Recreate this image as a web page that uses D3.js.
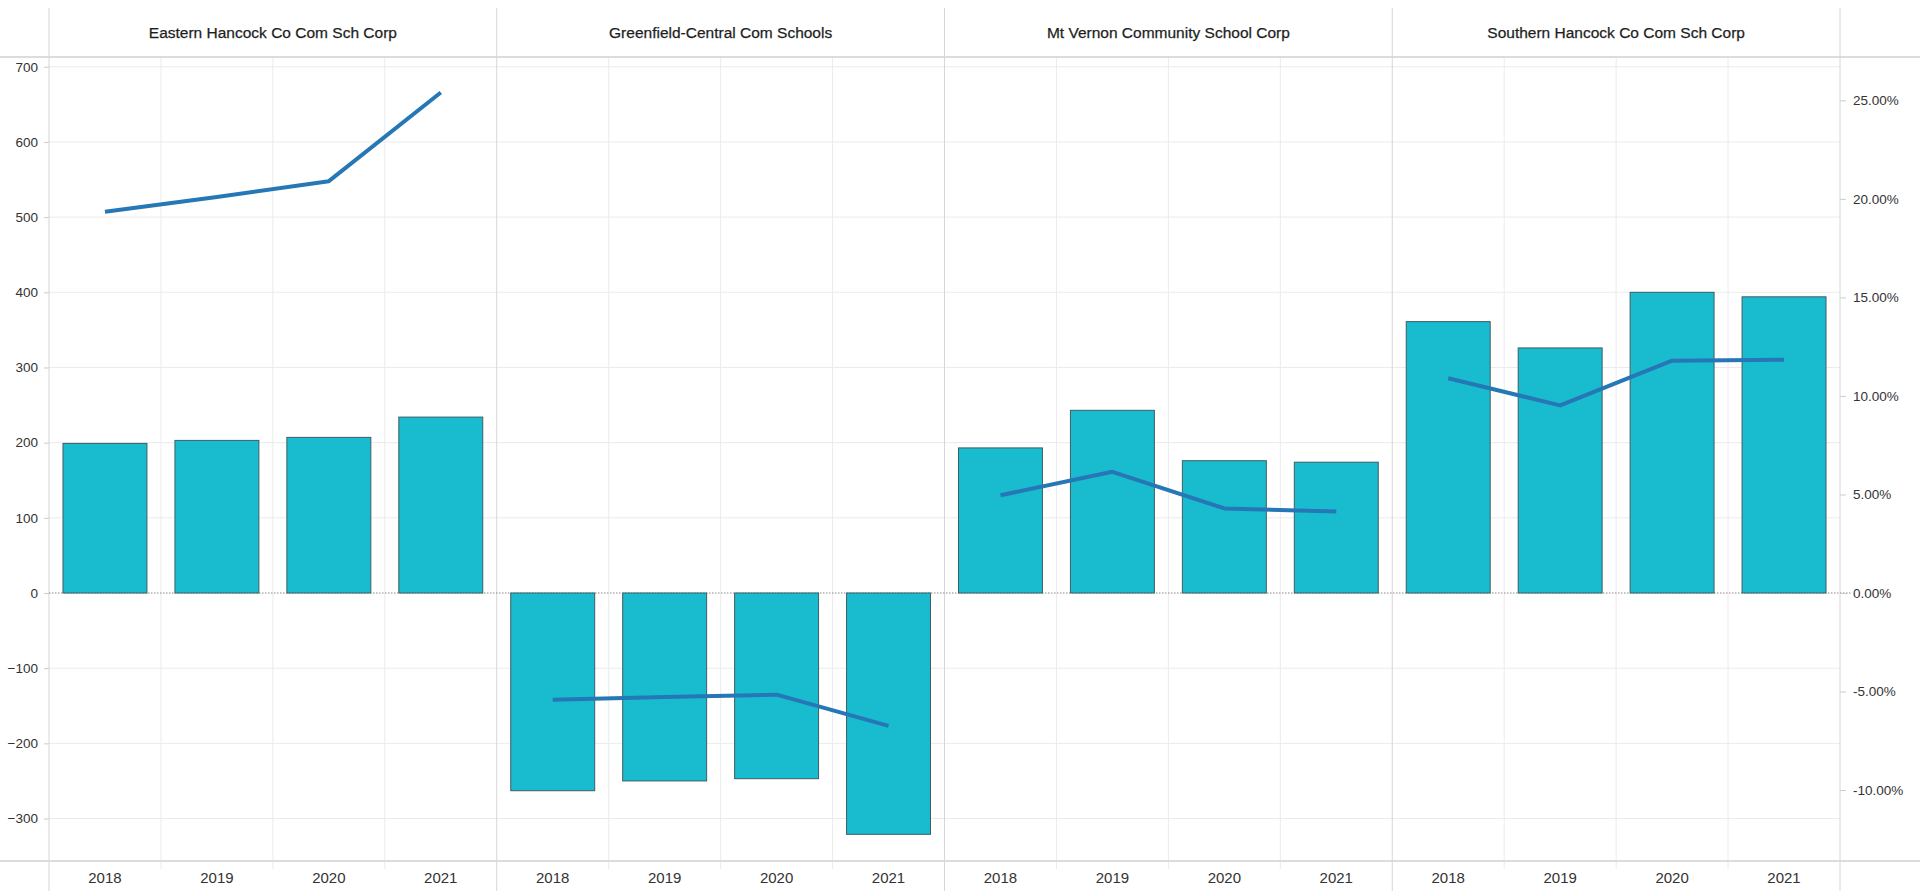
<!DOCTYPE html>
<html lang="en">
<head>
<meta charset="UTF-8">
<title>Change by district</title>
<script src="https://cdnjs.cloudflare.com/ajax/libs/d3/7.8.5/d3.min.js"></script>
<style>
    html, body { margin: 0; padding: 0; background: #fff; }
    svg { display: block; font-family: "Liberation Sans", Arial, sans-serif; }
    .tick text { fill: #333; }
    .head { fill: #1e1e1e; font-size: 15.5px; }
</style>
</head>
<body>
<script>
const districts = ["Eastern Hancock Co Com Sch Corp", "Greenfield-Central Com Schools",
                   "Mt Vernon Community School Corp", "Southern Hancock Co Com Sch Corp"];
const years = ["2018", "2019", "2020", "2021"];
// bars (left axis)
const changeValues = [
    [199, 203, 207, 234],
    [-263, -250, -247, -321],
    [193, 243, 176, 174],
    [361, 326, 400, 394]
];
// line (right axis, percent)
const pctValues = [
    [19.35, 20.1, 20.9, 25.4],
    [-5.42, -5.28, -5.16, -6.74],
    [4.96, 6.15, 4.29, 4.13],
    [10.9, 9.52, 11.79, 11.84]
];
const leftTicks = [-300, -200, -100, 0, 100, 200, 300, 400, 500, 600, 700];
const rightTicks = [-10, -5, 0, 5, 10, 15, 20, 25];

const W = 1920, H = 891;
const plotL = 49, plotR = 1840, plotT = 57, plotB = 861;

const svg = d3.select("body").append("svg").attr("width", W).attr("height", H);

const xPanel = d3.scaleBand().domain(districts).range([plotL, plotR]);
const xYear = d3.scaleBand().domain(years).range([0, xPanel.bandwidth()])
    .paddingInner(0.25).paddingOuter(0.125);
const xCell = d3.scaleBand().domain(years).range([0, xPanel.bandwidth()]);

const y = d3.scaleLinear().domain([-356.5, 713]).range([plotB, plotT]);
const y2 = d3.scaleLinear().domain([-13.6, 27.2]).range([plotB, plotT]);

// horizontal grid
svg.append("g").selectAll("line").data(leftTicks.filter(d => d !== 0)).enter().append("line")
    .attr("x1", plotL).attr("x2", plotR)
    .attr("y1", d => y(d)).attr("y2", d => y(d))
    .attr("stroke", "#ebebeb");

// vertical grid inside each panel
districts.forEach(p => {
    years.slice(1).forEach(yr => {
        const gx = xPanel(p) + xCell(yr);
        svg.append("line")
            .attr("x1", gx).attr("x2", gx).attr("y1", plotT).attr("y2", plotB + 8)
            .attr("stroke", "#ebebeb");
    });
});

// header and axis frame lines
svg.append("line").attr("x1", 0).attr("x2", W).attr("y1", plotT).attr("y2", plotT)
    .attr("stroke", "#dcdcdc").attr("stroke-width", 2);
svg.append("line").attr("x1", 0).attr("x2", W).attr("y1", plotB).attr("y2", plotB)
    .attr("stroke", "#dcdcdc").attr("stroke-width", 2);

// panel dividers
const edges = districts.map(p => xPanel(p)).concat([plotR]);
svg.append("g").selectAll("line").data(edges).enter().append("line")
    .attr("x1", d => d).attr("x2", d => d).attr("y1", 8).attr("y2", H)
    .attr("stroke", "#d6d6d6");

// zero line
svg.append("line").attr("x1", plotL).attr("x2", plotR + 12)
    .attr("y1", y(0)).attr("y2", y(0))
    .attr("stroke", "#888").attr("stroke-dasharray", "1.5,1.5");

// panel titles
svg.selectAll(".head").data(districts).enter().append("text")
    .attr("class", "head")
    .attr("x", d => xPanel(d) + xPanel.bandwidth() / 2)
    .attr("y", 34)
    .attr("text-anchor", "middle").attr("dominant-baseline", "middle")
    .attr("stroke", "#1e1e1e").attr("stroke-width", 0.25)
    .text(d => d);

// bars + lines
const line = d3.line()
    .x(d => d.x)
    .y(d => y2(d.v));

districts.forEach((p, i) => {
    const g = svg.append("g").attr("transform", `translate(${xPanel(p)},0)`);
    const rows = years.map((yr, j) => ({ yr, v: changeValues[i][j] }));
    g.selectAll("rect").data(rows).enter().append("rect")
        .attr("x", d => xYear(d.yr))
        .attr("width", xYear.bandwidth())
        .attr("y", d => y(Math.max(0, d.v)))
        .attr("height", d => Math.abs(y(d.v) - y(0)))
        .attr("fill", "#19bccf")
        .attr("stroke", "#3f5d66").attr("stroke-width", 1);

    const pts = years.map((yr, j) => ({ x: xCell(yr) + xCell.bandwidth() / 2, v: pctValues[i][j] }));
    g.append("path").datum(pts)
        .attr("d", line)
        .attr("fill", "none")
        .attr("stroke", "#2677b5")
        .attr("stroke-width", 4)
        .attr("stroke-linejoin", "round");

    const xa = g.append("g").attr("transform", `translate(0,${plotB})`)
        .call(d3.axisBottom(xCell).tickSize(0).tickPadding(11));
    xa.select(".domain").remove();
    xa.selectAll("text").attr("font-size", 15).attr("fill", "#222");
});

// left axis
const ya = svg.append("g").attr("transform", `translate(${plotL},0)`)
    .call(d3.axisLeft(y).tickValues(leftTicks).tickSize(5).tickPadding(6));
ya.select(".domain").remove();
ya.selectAll(".tick line").attr("stroke", "#ccc");
ya.selectAll("text").attr("font-size", 13.5);

// right axis
const ya2 = svg.append("g").attr("transform", `translate(${plotR},0)`)
    .call(d3.axisRight(y2).tickValues(rightTicks).tickSize(6).tickPadding(7)
        .tickFormat(d => d.toFixed(2) + "%"));
ya2.select(".domain").remove();
ya2.selectAll(".tick line").attr("stroke", "#ccc");
ya2.selectAll("text").attr("font-size", 13.5);
</script>
</body>
</html>
